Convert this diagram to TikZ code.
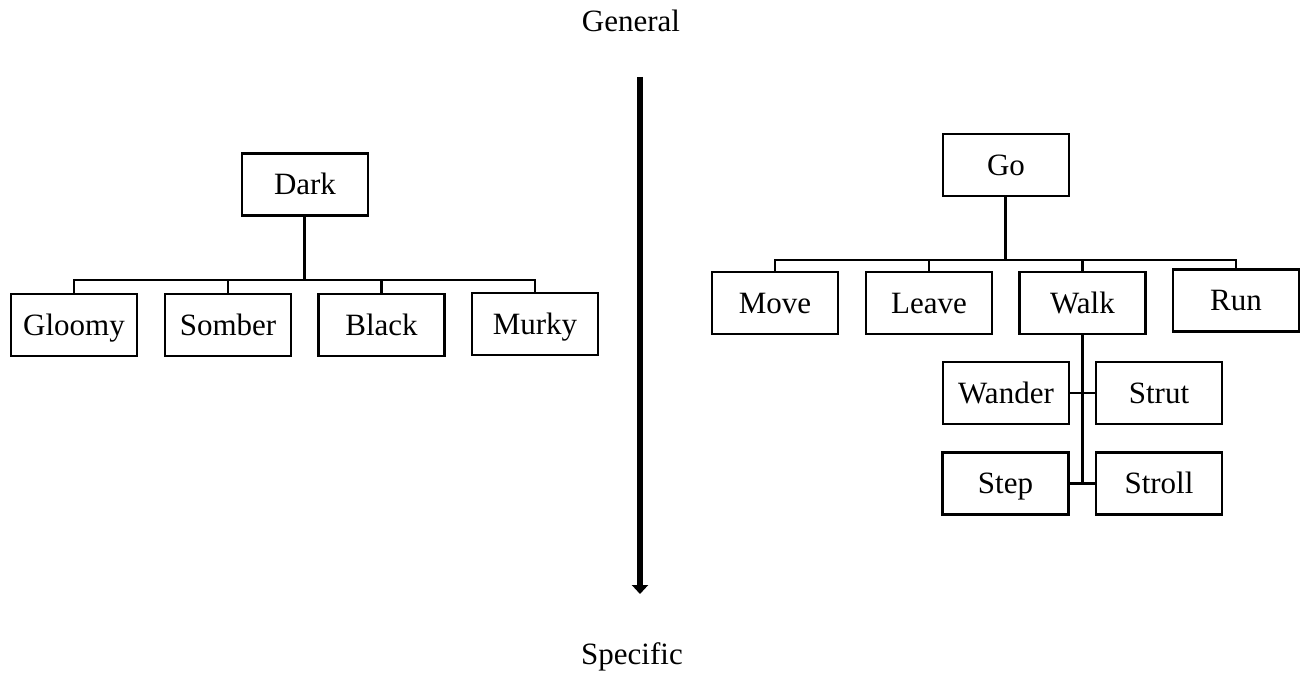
\documentclass[tikz,border=0pt]{standalone}
\usepackage{fontspec}
\setmainfont{Liberation Serif}
\usetikzlibrary{arrows.meta}
\begin{document}
\begin{tikzpicture}[x=1pt,y=-1pt,
  wbox/.style={draw,line width=2.2pt,minimum width=126pt,minimum height=62pt,inner sep=0pt,
    font=\fontsize{31}{36}\selectfont,text height=20pt,text depth=0pt},
  lbl/.style={font=\fontsize{31}{36}\selectfont,inner sep=0pt,anchor=base},
  conn/.style={line width=2.3pt},
  stem/.style={line width=3pt}]
\useasboundingbox (0,0) rectangle (1305,674);
\node[lbl] (general) at (631,32) {General};
\node[lbl] (specific) at (632,664) {Specific};
\coordinate (atop) at (640,77);
\coordinate (atip) at (640,594);
\draw[line width=6pt,-{Triangle[width=16pt,length=9pt]}] (atop) -- (atip);
% left tree
\node[wbox] (dark) at (305,184.5) {Dark};
\node[wbox] (gloomy) at (74,325) {Gloomy};
\node[wbox] (somber) at (228,325) {Somber};
\node[wbox] (black) at (381.5,325) {Black};
\node[wbox] (murky) at (535,324) {Murky};
\coordinate (lbar) at (304,280);
\draw[stem] (dark.south -| lbar) -- (lbar);
\draw[conn] (gloomy.north) |- (lbar);
\draw[conn] (murky.north) |- (lbar);
\draw[conn] (somber.north) -- (somber.north |- lbar);
\draw[conn] (black.north) -- (black.north |- lbar);
% right tree
\node[wbox] (go) at (1006,165) {Go};
\node[wbox] (move) at (775,303) {Move};
\node[wbox] (leave) at (929,303) {Leave};
\node[wbox] (walk) at (1082.5,303) {Walk};
\node[wbox] (run) at (1236,300.5) {Run};
\node[wbox] (wander) at (1006,393) {Wander};
\node[wbox] (strut) at (1159,393) {Strut};
\node[wbox] (step) at (1005.5,483.5) {Step};
\node[wbox] (stroll) at (1159,483.5) {Stroll};
\coordinate (rbar) at (1005,260);
\draw[stem] (go.south -| rbar) -- (rbar);
\draw[conn] (move.north) |- (rbar);
\draw[conn] (run.north) |- (rbar);
\draw[conn] (leave.north) -- (leave.north |- rbar);
\draw[conn] (walk.north) -- (walk.north |- rbar);
\draw[stem] (walk.south) -- (walk.south |- step.east);
\draw[conn] (wander.east) -- (strut.west);
\draw[conn] (step.east) -- (stroll.west);
\end{tikzpicture}
\end{document}
